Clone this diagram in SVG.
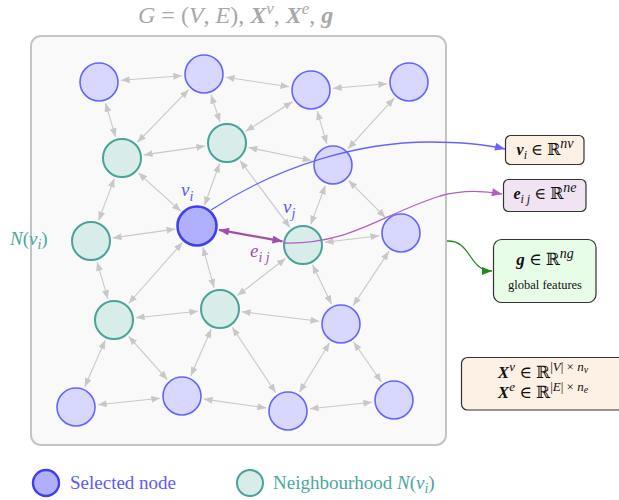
<svg xmlns="http://www.w3.org/2000/svg" width="619" height="500" viewBox="0 0 619 500">
  <style>
    text { font-family: "Liberation Serif", "DejaVu Serif", serif; }
    .it { font-style: italic; }
    .bi { font-style: italic; font-weight: bold; }
    .lav { fill: #d8d8ff; stroke: #6464ff; stroke-width: 1.6; }
    .teal { fill: #d8ecea; stroke: #4aa39a; stroke-width: 2; }
    .sel { fill: #b0b0ff; stroke: #4040ee; stroke-width: 2.6; }
    .edge { stroke: #c8c8c8; stroke-width: 1.1; fill: none; marker-start: url(#ga); marker-end: url(#ga); }
    .box { stroke: #333; stroke-width: 1.2; }
  </style>
  <defs>
    <marker id="ga" viewBox="0 0 10 8" refX="10" refY="4" markerWidth="9" markerHeight="7" markerUnits="userSpaceOnUse" orient="auto-start-reverse">
      <path d="M0,0 L10,4 L0,8 z" fill="#c8c8c8"/>
    </marker>
    <marker id="pa" viewBox="0 0 10 8" refX="10" refY="4" markerWidth="11" markerHeight="8" markerUnits="userSpaceOnUse" orient="auto-start-reverse">
      <path d="M0,0 L10,4 L0,8 z" fill="#a050a8"/>
    </marker>
    <marker id="ba" viewBox="0 0 10 8" refX="10" refY="4" markerWidth="11" markerHeight="8" markerUnits="userSpaceOnUse" orient="auto">
      <path d="M0,0 L10,4 L0,8 z" fill="#6464ff"/>
    </marker>
    <marker id="ma" viewBox="0 0 10 8" refX="10" refY="4" markerWidth="11" markerHeight="8" markerUnits="userSpaceOnUse" orient="auto">
      <path d="M0,0 L10,4 L0,8 z" fill="#b060c0"/>
    </marker>
    <marker id="gra" viewBox="0 0 10 8" refX="10" refY="4" markerWidth="11" markerHeight="8" markerUnits="userSpaceOnUse" orient="auto">
      <path d="M0,0 L10,4 L0,8 z" fill="#1f8a1f"/>
    </marker>
  </defs>

  <!-- title -->
  <text x="138" y="23" font-size="24" fill="#a8a8a8"><tspan class="it">G</tspan> = (<tspan class="it">V</tspan>, <tspan class="it">E</tspan>), <tspan class="bi">X</tspan><tspan class="it" font-size="17" dy="-9">v</tspan><tspan dy="9">, </tspan><tspan class="bi">X</tspan><tspan class="it" font-size="17" dy="-9">e</tspan><tspan dy="9">, </tspan><tspan class="bi">g</tspan></text>

  <!-- graph frame -->
  <rect x="31" y="36" width="415" height="409" rx="10" fill="#f9f9f9" stroke="#c4c4c4" stroke-width="2"/>

  <!-- connectors -->
  <g id="connectors">
    <line class="edge" x1="120.9" y1="80.3" x2="182.1" y2="75.7"/>
    <line class="edge" x1="225.8" y1="77.3" x2="289.2" y2="86.7"/>
    <line class="edge" x1="332.9" y1="88.2" x2="387.1" y2="83.8"/>
    <line class="edge" x1="105.4" y1="103.1" x2="115.6" y2="136.9"/>
    <line class="edge" x1="188.6" y1="89.7" x2="137.4" y2="142.3"/>
    <line class="edge" x1="211.0" y1="94.9" x2="220.0" y2="122.1"/>
    <line class="edge" x1="292.4" y1="101.7" x2="245.6" y2="131.3"/>
    <line class="edge" x1="317.2" y1="111.1" x2="326.8" y2="143.9"/>
    <line class="edge" x1="394.1" y1="98.2" x2="347.9" y2="148.8"/>
    <line class="edge" x1="143.8" y1="154.9" x2="205.2" y2="146.1"/>
    <line class="edge" x1="248.5" y1="147.5" x2="311.5" y2="160.5"/>
    <line class="edge" x1="138.3" y1="172.8" x2="180.7" y2="211.2"/>
    <line class="edge" x1="219.5" y1="163.7" x2="204.5" y2="205.3"/>
    <line class="edge" x1="240.1" y1="160.6" x2="289.9" y2="227.4"/>
    <line class="edge" x1="325.3" y1="185.6" x2="310.7" y2="224.4"/>
    <line class="edge" x1="348.6" y1="180.6" x2="385.4" y2="217.4"/>
    <line class="edge" x1="112.8" y1="237.9" x2="175.2" y2="229.1"/>
    <line class="edge" x1="324.8" y1="242.3" x2="379.2" y2="235.7"/>
    <line class="edge" x1="114.3" y1="178.6" x2="98.7" y2="220.4"/>
    <line class="edge" x1="97.1" y1="262.1" x2="107.9" y2="298.9"/>
    <line class="edge" x1="182.4" y1="242.5" x2="128.6" y2="303.5"/>
    <line class="edge" x1="202.9" y1="247.2" x2="214.1" y2="287.8"/>
    <line class="edge" x1="285.6" y1="258.4" x2="237.4" y2="295.6"/>
    <line class="edge" x1="312.5" y1="264.8" x2="331.5" y2="304.2"/>
    <line class="edge" x1="388.9" y1="251.4" x2="353.1" y2="305.6"/>
    <line class="edge" x1="135.9" y1="317.7" x2="198.1" y2="311.3"/>
    <line class="edge" x1="241.8" y1="311.7" x2="319.2" y2="321.3"/>
    <line class="edge" x1="105.2" y1="340.2" x2="84.8" y2="386.8"/>
    <line class="edge" x1="128.7" y1="336.4" x2="167.3" y2="379.6"/>
    <line class="edge" x1="211.2" y1="329.2" x2="190.8" y2="375.8"/>
    <line class="edge" x1="232.2" y1="327.3" x2="275.8" y2="392.7"/>
    <line class="edge" x1="329.6" y1="342.8" x2="299.4" y2="392.2"/>
    <line class="edge" x1="353.6" y1="342.0" x2="381.4" y2="382.0"/>
    <line class="edge" x1="97.9" y1="404.7" x2="160.1" y2="398.3"/>
    <line class="edge" x1="203.8" y1="399.1" x2="266.2" y2="407.9"/>
    <line class="edge" x1="309.9" y1="408.7" x2="372.1" y2="402.3"/>
    <!-- selected edge e_ij -->
    <line x1="219" y1="229.9" x2="282.5" y2="241.3" stroke="#a050a8" stroke-width="2.2" marker-start="url(#pa)" marker-end="url(#pa)"/>
  </g>

  <!-- nodes -->
  <g id="n-a"><circle class="lav" cx="99" cy="82" r="19"/></g>
  <g id="n-b"><circle class="lav" cx="204" cy="74" r="19"/></g>
  <g id="n-c"><circle class="lav" cx="311" cy="90" r="19"/></g>
  <g id="n-d"><circle class="lav" cx="409" cy="82" r="19"/></g>
  <g id="n-e"><circle class="teal" cx="122" cy="158" r="19"/></g>
  <g id="n-f"><circle class="teal" cx="227" cy="143" r="19"/></g>
  <g id="n-g"><circle class="lav" cx="333" cy="165" r="19"/></g>
  <g id="n-vi"><circle class="sel" cx="197" cy="226" r="19.5"/></g>
  <g id="n-vj"><circle class="teal" cx="303" cy="245" r="19"/></g>
  <g id="n-r"><circle class="lav" cx="401" cy="233" r="19"/></g>
  <g id="n-n"><circle class="teal" cx="91" cy="241" r="19"/></g>
  <g id="n-t2"><circle class="teal" cx="114" cy="320" r="19"/></g>
  <g id="n-t3"><circle class="teal" cx="220" cy="309" r="19"/></g>
  <g id="n-l"><circle class="lav" cx="341" cy="324" r="19"/></g>
  <g id="n-b1"><circle class="lav" cx="76" cy="407" r="19"/></g>
  <g id="n-b2"><circle class="lav" cx="182" cy="396" r="19"/></g>
  <g id="n-b3"><circle class="lav" cx="288" cy="411" r="19"/></g>
  <g id="n-b4"><circle class="lav" cx="394" cy="400" r="19"/></g>

  <!-- feature links -->
  <g id="feature-links" fill="none">
    <path d="M211,210 C280,165 360,142 430,142 C465,142 488,145 505,149" stroke="#6464ff" stroke-width="1.3" marker-end="url(#ba)"/>
    <path d="M283,243 C350,245 380,215 440,196 C465,189 485,191 502,194" stroke="#b060c0" stroke-width="1.3" marker-end="url(#ma)"/>
    <path d="M447,241 C472,240 468,271 492,271" stroke="#1f8a1f" stroke-width="1.3" marker-end="url(#gra)"/>
  </g>

  <!-- graph labels -->
  <text x="181" y="196" font-size="19" fill="#5a5aff" class="it">v<tspan font-size="14" dy="5">i</tspan></text>
  <text x="283" y="213" font-size="19" fill="#5a5aff" class="it">v<tspan font-size="14" dy="5">j</tspan></text>
  <text x="250" y="257" font-size="19" fill="#a050a8" class="it">e<tspan font-size="14" dy="5">i j</tspan></text>
  <text x="10" y="245" font-size="19" fill="#4aa89e"><tspan class="it">N</tspan>(<tspan class="it">v</tspan><tspan class="it" font-size="14" dy="4">i</tspan><tspan dy="-4">)</tspan></text>

  <!-- feature boxes -->
  <g id="box-vi">
    <rect class="box" x="505.5" y="135.5" width="78.5" height="29" rx="5" fill="#fdf0e4"/>
    <text x="545" y="155" font-size="16" text-anchor="middle" fill="#111"><tspan class="bi">v</tspan><tspan class="it" font-size="12" dy="4">i</tspan><tspan dy="-4"> ∈ ℝ</tspan><tspan class="it" font-size="14" dy="-7">nv</tspan></text>
  </g>
  <g id="box-eij">
    <rect class="box" x="503.5" y="179.5" width="82.5" height="32" rx="5" fill="#f0e4f2"/>
    <text x="545" y="199" font-size="16" text-anchor="middle" fill="#111"><tspan class="bi">e</tspan><tspan class="it" font-size="12" dy="4">i j</tspan><tspan dy="-4"> ∈ ℝ</tspan><tspan class="it" font-size="14" dy="-7">ne</tspan></text>
  </g>
  <g id="box-g">
    <rect class="box" x="493.5" y="239.5" width="102.5" height="63" rx="8" fill="#e8fde8"/>
    <text x="545" y="265" font-size="17" text-anchor="middle" fill="#111"><tspan class="bi">g</tspan><tspan> ∈ ℝ</tspan><tspan class="it" font-size="14" dy="-7">ng</tspan></text>
    <text x="545" y="289" font-size="12.5" text-anchor="middle" fill="#111">global features</text>
  </g>
  <g id="box-x">
    <rect class="box" x="461.5" y="357.5" width="170" height="52.5" rx="6" fill="#fdf0e4"/>
    <text x="543" y="378" font-size="17" text-anchor="middle" fill="#111"><tspan class="bi">X</tspan><tspan class="it" font-size="13" dy="-7">v</tspan><tspan dy="7"> ∈ ℝ</tspan><tspan font-size="13" dy="-7">|</tspan><tspan class="it" font-size="13">V</tspan><tspan font-size="13">| × </tspan><tspan class="it" font-size="13">n</tspan><tspan class="it" font-size="10" dy="2">v</tspan></text>
    <text x="543" y="398" font-size="17" text-anchor="middle" fill="#111"><tspan class="bi">X</tspan><tspan class="it" font-size="13" dy="-7">e</tspan><tspan dy="7"> ∈ ℝ</tspan><tspan font-size="13" dy="-7">|</tspan><tspan class="it" font-size="13">E</tspan><tspan font-size="13">| × </tspan><tspan class="it" font-size="13">n</tspan><tspan class="it" font-size="10" dy="2">e</tspan></text>
  </g>

  <!-- legend -->
  <g id="legend-selected">
    <circle cx="46" cy="483" r="13" fill="#b0b0ff" stroke="#4040ee" stroke-width="2.4"/>
    <text x="70" y="489" font-size="19" fill="#5a5aff">Selected node</text>
  </g>
  <g id="legend-neighbourhood">
    <circle cx="250" cy="483" r="13" fill="#d8ecea" stroke="#4aa39a" stroke-width="2"/>
    <text x="273" y="489" font-size="19" fill="#4aa89e">Neighbourhood <tspan class="it">N</tspan>(<tspan class="it">v</tspan><tspan class="it" font-size="14" dy="4">i</tspan><tspan dy="-4">)</tspan></text>
  </g>
</svg>
